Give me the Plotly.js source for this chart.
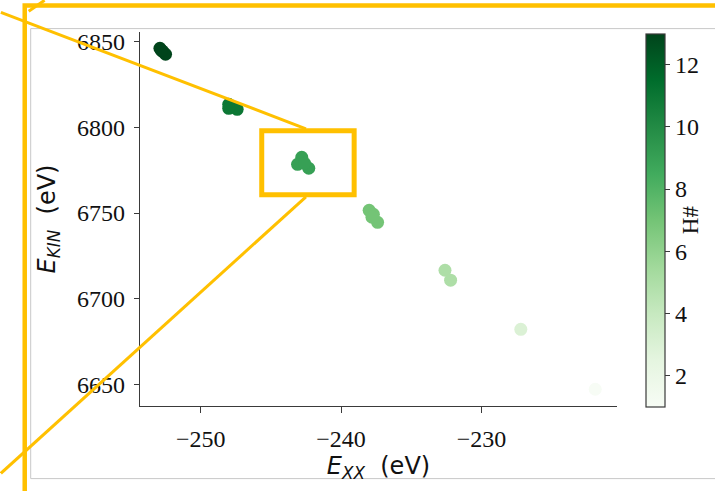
<!DOCTYPE html>
<html>
<head>
<meta charset="utf-8">
<script src="https://cdn.plot.ly/plotly-3.0.1.min.js"></script>
<style>
  html, body { margin: 0; padding: 0; background: #fff; }
  #chart { width: 715px; height: 491px; }
</style>
</head>
<body>
<div id="chart"></div>
<script>
// Exchange energy vs kinetic energy, coloured by number of hydrogens (H#)
const exxEnergy = [
  -252.9, -252.7, -252.5, -252.8,
  -248.0, -247.7, -247.4, -248.0,
  -242.8, -243.1, -242.3, -242.6,
  -238.0, -237.7, -237.4, -237.8,
  -232.6, -232.2,
  -227.2,
  -221.9
];
const kinEnergy = [
  6846.3, 6844.5, 6842.8, 6845.0,
  6813.6, 6811.8, 6810.6, 6811.2,
  6782.6, 6778.5, 6776.2, 6779.1,
  6751.6, 6749.3, 6744.6, 6747.6,
  6716.6, 6710.8,
  6682.1,
  6647.1
];
const hCount = [
  13, 13, 13, 13,
  11, 11, 11, 11,
  9, 9, 9, 9,
  7, 7, 7, 7,
  5, 5,
  3,
  1
];
const hTicks = [2, 4, 6, 8, 10, 12];

// matplotlib-style "Greens" sequential map (light -> dark)
const greens = [
  [0.000, 'rgb(247,252,245)'],
  [0.125, 'rgb(229,245,224)'],
  [0.250, 'rgb(199,233,192)'],
  [0.375, 'rgb(161,217,155)'],
  [0.500, 'rgb(116,196,118)'],
  [0.625, 'rgb(65,171,93)'],
  [0.750, 'rgb(35,139,69)'],
  [0.875, 'rgb(0,109,44)'],
  [1.000, 'rgb(0,68,27)']
];

// plot-area geometry in pixels, used to place the highlight overlay
const W = 715, H = 491;
const M = { l: 140, r: 95, t: 31.7, b: 85.3 };
const PW = W - M.l - M.r, PH = H - M.t - M.b;
const px = v => (v - M.l) / PW;
const py = v => (H - M.b - v) / PH;

const serif = 'Times New Roman';
const sans = 'DejaVu Sans';
const axisCol = '#3a3a3a';
const gold = 'rgb(255,192,0)';
const tickFont = { family: serif, size: 24, color: '#111' };

const trace = {
  type: 'scatter',
  mode: 'markers',
  x: exxEnergy,
  y: kinEnergy,
  marker: {
    size: 13,
    color: hCount,
    colorscale: greens,
    cmin: 1,
    cmax: 13,
    line: { width: 0 },
    colorbar: {
      x: px(649),
      xanchor: 'left',
      xpad: 0,
      y: py(219.8),
      yanchor: 'middle',
      ypad: 0,
      lenmode: 'pixels',
      len: 373,
      thickness: 19,
      outlinewidth: 1.2,
      outlinecolor: axisCol,
      tickmode: 'array',
      tickvals: hTicks,
      ticks: 'outside',
      ticklen: 5,
      tickwidth: 1,
      tickcolor: axisCol,
      tickfont: tickFont,
      title: { text: 'H#', side: 'right', font: { family: serif, size: 23, color: '#111' } }
    }
  },
  hoverinfo: 'x+y+text',
  text: hCount.map(h => 'H# ' + h)
};

const lineShape = (x0, y0, x1, y1, w) => ({
  type: 'line', xref: 'paper', yref: 'paper', layer: 'above',
  x0: px(x0), y0: py(y0), x1: px(x1), y1: py(y1),
  line: { color: gold, width: w }
});

const layout = {
  width: W,
  height: H,
  margin: M,
  font: { family: serif, size: 24, color: '#111' },
  paper_bgcolor: '#fff',
  plot_bgcolor: '#fff',
  showlegend: false,
  xaxis: {
    range: [-254.32, -220.35],
    tickvals: [-250, -240, -230],
    showgrid: false,
    zeroline: false,
    showline: true,
    linecolor: axisCol,
    linewidth: 1.3,
    ticks: 'outside',
    ticklen: 6,
    tickwidth: 1,
    tickcolor: axisCol,
    ticklabelstandoff: 5,
    tickfont: tickFont,
    automargin: false,
    title: {
      text: '<i>E</i><sub><i>XX</i></sub>\u00a0\u00a0(eV)',
      font: { family: sans, size: 24, color: '#111' },
      standoff: 0
    }
  },
  yaxis: {
    range: [6637.3, 6855.8],
    tickvals: [6650, 6700, 6750, 6800, 6850],
    showgrid: false,
    zeroline: false,
    showline: true,
    linecolor: axisCol,
    linewidth: 1.3,
    ticks: 'outside',
    ticklen: 5,
    tickwidth: 1,
    tickcolor: axisCol,
    ticklabelstandoff: 4,
    tickfont: tickFont,
    automargin: false,
    title: {
      text: '<i>E</i><sub><i>KIN</i></sub>\u00a0\u00a0(eV)',
      font: { family: sans, size: 24, color: '#111' },
      standoff: 14
    }
  },
  shapes: [
    // thin grey figure border
    { type: 'rect', xref: 'paper', yref: 'paper', layer: 'below',
      x0: px(30), y0: py(478.3), x1: px(730), y1: py(28.3),
      line: { color: 'rgb(200,200,200)', width: 1 } },
    // outer highlight frame
    { type: 'rect', xref: 'paper', yref: 'paper', layer: 'above',
      x0: px(24), y0: py(505), x1: px(722), y1: py(5.3),
      line: { color: gold, width: 4.5 } },
    // box around the H#=9 cluster
    { type: 'rect', xref: 'paper', yref: 'paper', layer: 'above',
      x0: px(262.5), y0: py(194.5), x1: px(355.5), y1: py(130.5),
      line: { color: gold, width: 5 } },
    // connector lines to the frame
    lineShape(0, 12, 307, 128.5, 3),
    lineShape(0, 473, 307, 196.5, 3),
    lineShape(28, 11, 44, 0, 3)
  ]
};

Plotly.newPlot('chart', [trace], layout, { displayModeBar: false, staticPlot: true });
</script>
</body>
</html>
